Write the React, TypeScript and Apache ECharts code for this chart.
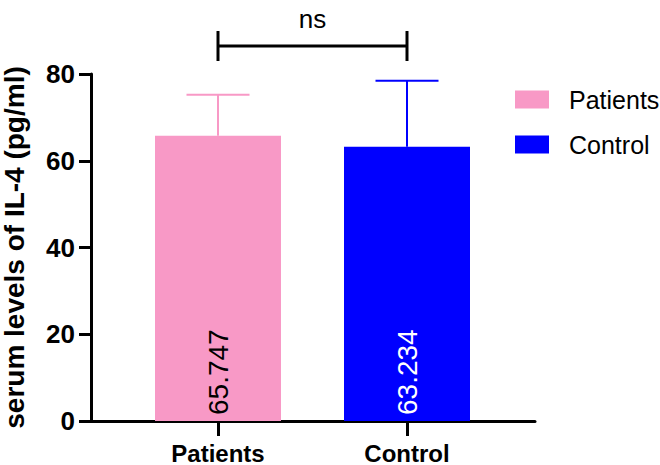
import React, { useEffect, useRef } from "react";
import * as echarts from "echarts";

const categories = ["Patients", "Control"];
const seriesNames = ["Patients", "Control"];
const meanValues = [65.747, 63.234];
const errorTops = [75.2, 78.45];
const yTicks = { min: 0, max: 80, interval: 20 };
const significance = { from: 0, to: 1, level: 86.45, text: "ns" };
const colors = ["#F899C6", "#0000FF"];
const labelColors = ["#000000", "#FFFFFF"];

const FONT = "Liberation Sans, Arial, Helvetica, sans-serif";

export default function App() {
  const ref = useRef<HTMLDivElement>(null);
  useEffect(() => {
    if (!ref.current) return;
    const chart = echarts.init(ref.current, undefined, { renderer: "svg" });

    const barSeries = seriesNames.map((name, i) => ({
      type: "bar",
      name,
      xAxisIndex: 0,
      yAxisIndex: 0,
      barWidth: 126,
      barGap: "-100%",
      itemStyle: { color: colors[i] },
      data: categories.map((_, j) => (j === i ? meanValues[j] : "-")),
      label: {
        show: true,
        position: "insideBottom",
        rotate: 90,
        align: "left",
        verticalAlign: "middle",
        distance: 6,
        color: labelColors[i],
        fontSize: 28,
        fontFamily: FONT,
        formatter: (p: any) => String(p.value),
      },
      z: 2,
    }));

    const errorSeries = {
      type: "custom",
      name: "error",
      xAxisIndex: 0,
      yAxisIndex: 0,
      z: 3,
      encode: { x: 0, y: [1, 2] },
      data: categories.map((_, i) => [i, meanValues[i], errorTops[i]]),
      renderItem: (params: any, api: any) => {
        const i = api.value(0);
        const p0 = api.coord([i, api.value(1)]);
        const p1 = api.coord([i, api.value(2)]);
        const half = api.size([1, 0])[0] / 6;
        const st = { stroke: colors[params.dataIndex], lineWidth: 2 };
        return {
          type: "group",
          children: [
            { type: "line", shape: { x1: p0[0], y1: p0[1], x2: p1[0], y2: p1[1] }, style: st },
            { type: "line", shape: { x1: p1[0] - half, y1: p1[1], x2: p1[0] + half, y2: p1[1] }, style: st },
          ],
        };
      },
    };

    const sigSeries = {
      type: "custom",
      name: "sig",
      xAxisIndex: 0,
      yAxisIndex: 0,
      z: 3,
      clip: false,
      data: [[significance.from, significance.to, significance.level]],
      renderItem: (params: any, api: any) => {
        const a = api.coord([api.value(0), api.value(2)]);
        const b = api.coord([api.value(1), api.value(2)]);
        const st = { stroke: "#000", lineWidth: 3 };
        return {
          type: "group",
          children: [
            { type: "line", shape: { x1: a[0], y1: a[1], x2: b[0], y2: b[1] }, style: st },
            { type: "line", shape: { x1: a[0], y1: a[1] - 15, x2: a[0], y2: a[1] + 15 }, style: st },
            { type: "line", shape: { x1: b[0], y1: b[1] - 15, x2: b[0], y2: b[1] + 15 }, style: st },
            {
              type: "text",
              style: {
                x: (a[0] + b[0]) / 2,
                y: a[1] - 14,
                text: significance.text,
                fill: "#000",
                fontSize: 26,
                fontFamily: FONT,
                align: "center",
                verticalAlign: "bottom",
              },
            },
          ],
        };
      },
    };

    const option: any = {
      animation: false,
      backgroundColor: "#ffffff",
      textStyle: { fontFamily: FONT },
      grid: [
        { left: 123.5, right: 158.5, top: 74, bottom: 44, containLabel: false, outerBoundsMode: "none" },
        { left: 91, right: 125, top: 74, bottom: 44, containLabel: false, outerBoundsMode: "none" },
      ],
      legend: {
        orient: "vertical",
        left: 510,
        top: 82,
        itemWidth: 34,
        itemHeight: 18,
        itemGap: 20,
        icon: "rect",
        data: seriesNames,
        textStyle: { fontSize: 25, color: "#000", fontFamily: FONT, padding: [0, 0, 0, 15] },
      },
      xAxis: [
        {
          type: "category",
          gridIndex: 0,
          data: categories,
          axisLine: { show: false },
          axisTick: { show: true, alignWithLabel: true, length: 15, lineStyle: { color: "#000", width: 3 } },
          axisLabel: { color: "#000", fontSize: 24, fontWeight: "bold", margin: 20, fontFamily: FONT },
          splitLine: { show: false },
        },
        {
          type: "value",
          gridIndex: 1,
          min: 0,
          max: 1,
          axisLine: { show: true, onZero: false, lineStyle: { color: "#000", width: 3 } },
          axisTick: { show: false },
          axisLabel: { show: false },
          splitLine: { show: false },
        },
      ],
      yAxis: [
        {
          type: "value",
          gridIndex: 0,
          min: yTicks.min,
          max: yTicks.max,
          interval: yTicks.interval,
          offset: 32.5,
          name: "serum levels of IL-4 (pg/ml)",
          nameLocation: "middle",
          nameGap: 63,
          nameTextStyle: { color: "#000", fontSize: 28, fontWeight: "bold", fontFamily: FONT },
          axisLine: { show: true, lineStyle: { color: "#000", width: 3 } },
          axisTick: { show: true, length: 12, lineStyle: { color: "#000", width: 3 } },
          axisLabel: { color: "#000", fontSize: 26, fontWeight: "bold", margin: 16, fontFamily: FONT },
          splitLine: { show: false },
        },
        {
          type: "value",
          gridIndex: 1,
          min: yTicks.min,
          max: yTicks.max,
          show: false,
        },
      ],
      series: [...barSeries, errorSeries, sigSeries],
    };
    chart.setOption(option);
    return () => chart.dispose();
  }, []);

  return (
    <div
      ref={ref}
      style={{ position: "fixed", left: 0, top: 0, width: 660, height: 465 }}
    />
  );
}
